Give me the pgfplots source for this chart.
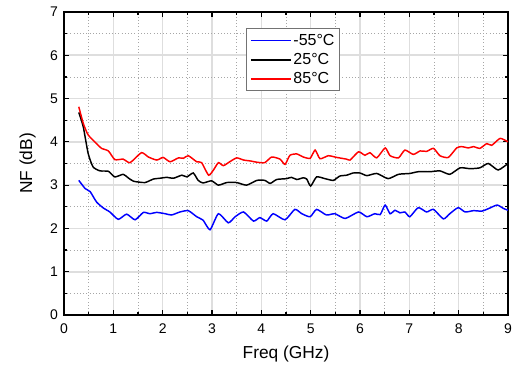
\documentclass[border=0pt]{standalone}
\usepackage{fontspec}
\setmainfont{Liberation Sans}
\usepackage{pgfplots}
\pgfplotsset{compat=1.18}
\usetikzlibrary{calc}
\begin{document}
\begin{tikzpicture}
\begin{axis}[
  scale only axis,
  width=333pt, height=227.25pt,
  xmin=0, xmax=9, ymin=0, ymax=7,
  xtick={0,...,9}, ytick={0,...,7},
  minor x tick num=1, minor y tick num=1,
  tick align=inside,
  major tick length=4pt, minor tick length=2.5pt,
  xtick pos=both, ytick pos=both,
  grid=both,
  major grid style={draw=black!13, line width=1.2pt},
  minor grid style={draw=black!35, dotted, line width=0.6pt},
  axis line style={black, line width=0.9pt},
  every tick/.style={black, line width=0.9pt},
  /pgf/number format/assume math mode=true,
  tick label style={font=\fontsize{10.5}{12}\selectfont},
  xticklabel style={yshift=-3pt},
  yticklabel style={xshift=-1pt},
  xlabel={Freq (GHz)}, ylabel={NF (dB)},
  label style={font=\fontsize{13}{15}\selectfont},
  xlabel style={yshift=-2pt},
  ylabel style={yshift=4pt},
  legend style={at={(0.41,0.947)}, anchor=north west, draw=black!55, fill=white,
    font=\fontsize{12}{14}\selectfont, row sep=1.5pt, inner sep=2.5pt, line width=0.8pt,
    nodes={inner sep=1.5pt}},
  legend cell align=left,
  legend image code/.code={\draw[#1, line width=1.3pt] (0cm,0cm) -- (1.05cm,0cm);},
  every axis plot/.append style={line width=1.1pt, smooth, tension=0.35},
]
\addplot[blue] coordinates {
(0.3,3.11)(0.43,2.92)(0.53,2.85)(0.66,2.61)(0.8,2.47)(0.93,2.38)(1.1,2.21)(1.27,2.33)(1.44,2.2)(1.61,2.37)(1.74,2.34)(1.88,2.37)(2.05,2.34)(2.18,2.31)(2.35,2.38)(2.52,2.41)(2.69,2.27)(2.82,2.19)(2.96,1.97)(3.13,2.34)(3.33,2.13)(3.47,2.27)(3.64,2.38)(3.84,2.17)(3.97,2.25)(4.11,2.17)(4.24,2.34)(4.48,2.2)(4.68,2.44)(4.82,2.34)(4.99,2.27)(5.12,2.44)(5.32,2.31)(5.49,2.34)(5.7,2.23)(5.97,2.38)(6.14,2.27)(6.3,2.34)(6.41,2.32)(6.51,2.54)(6.61,2.34)(6.71,2.42)(6.81,2.36)(6.91,2.38)(7.01,2.27)(7.18,2.48)(7.35,2.38)(7.49,2.44)(7.69,2.22)(7.82,2.34)(7.99,2.48)(8.13,2.38)(8.3,2.41)(8.47,2.4)(8.61,2.46)(8.78,2.54)(8.91,2.46)(9.0,2.42)
};
\addlegendentry{-55\textdegree C}
\addplot[black] coordinates {
(0.3,4.68)(0.39,4.35)(0.49,3.73)(0.59,3.42)(0.73,3.33)(0.9,3.32)(1.03,3.19)(1.2,3.25)(1.3,3.17)(1.41,3.09)(1.64,3.06)(1.81,3.14)(1.95,3.16)(2.08,3.18)(2.22,3.16)(2.39,3.23)(2.49,3.19)(2.62,3.28)(2.72,3.11)(2.82,3.05)(2.99,3.1)(3.13,3.0)(3.3,3.06)(3.5,3.06)(3.7,3.0)(3.91,3.11)(4.07,3.11)(4.18,3.04)(4.31,3.13)(4.51,3.15)(4.61,3.18)(4.72,3.13)(4.85,3.17)(4.92,3.14)(5.0,2.98)(5.12,3.19)(5.29,3.15)(5.46,3.11)(5.59,3.21)(5.73,3.23)(5.86,3.28)(6.0,3.28)(6.14,3.22)(6.34,3.27)(6.57,3.15)(6.78,3.25)(7.01,3.27)(7.18,3.31)(7.42,3.31)(7.62,3.33)(7.82,3.25)(8.03,3.4)(8.23,3.38)(8.43,3.4)(8.6,3.5)(8.8,3.35)(9.0,3.5)
};
\addlegendentry{25\textdegree C}
\addplot[red] coordinates {
(0.3,4.81)(0.39,4.43)(0.49,4.16)(0.66,3.96)(0.76,3.85)(0.9,3.79)(1.03,3.59)(1.2,3.6)(1.34,3.52)(1.57,3.75)(1.71,3.65)(1.88,3.58)(2.01,3.64)(2.15,3.54)(2.32,3.63)(2.42,3.62)(2.52,3.68)(2.69,3.54)(2.79,3.52)(2.93,3.23)(3.03,3.35)(3.13,3.52)(3.23,3.45)(3.36,3.54)(3.5,3.63)(3.64,3.58)(3.77,3.56)(3.91,3.53)(4.07,3.52)(4.21,3.65)(4.38,3.6)(4.48,3.48)(4.58,3.69)(4.72,3.72)(4.85,3.65)(4.99,3.62)(5.09,3.81)(5.19,3.61)(5.36,3.68)(5.53,3.64)(5.73,3.6)(5.8,3.58)(5.97,3.77)(6.1,3.69)(6.2,3.75)(6.34,3.63)(6.51,3.86)(6.61,3.68)(6.78,3.63)(6.91,3.81)(7.08,3.71)(7.22,3.79)(7.35,3.78)(7.49,3.85)(7.62,3.68)(7.79,3.64)(7.96,3.86)(8.06,3.89)(8.2,3.86)(8.3,3.89)(8.43,3.85)(8.57,3.96)(8.67,3.92)(8.84,4.08)(9.0,4.0)
};
\addlegendentry{85\textdegree C}
\end{axis}
\pgfresetboundingbox
\path[use as bounding box] ($(current axis.south west)+(-48pt,-38.25pt)$) rectangle ($(current axis.north east)+(12pt,9pt)$);
\end{tikzpicture}
\end{document}
